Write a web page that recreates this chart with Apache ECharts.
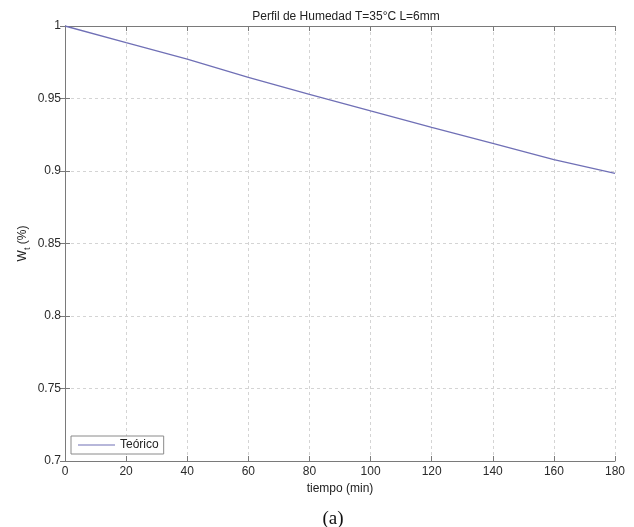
<!DOCTYPE html>
<html>
<head>
<meta charset="utf-8">
<script src="https://cdn.jsdelivr.net/npm/echarts@6/dist/echarts.min.js"></script>
<style>
  html, body { margin: 0; padding: 0; background: #fff; }
  #chart { width: 634px; height: 527px; }
</style>
</head>
<body>
<div id="chart"></div>
<script>
// Moisture profile, time in minutes vs. relative moisture
const tiempo = [0, 20, 40, 60, 80, 100, 120, 140, 160, 180];
const humedad = [1.0, 0.9885, 0.9772, 0.9646, 0.9529, 0.9414, 0.9301, 0.9191, 0.9078, 0.8984];
const xTicks = [0, 20, 40, 60, 80, 100, 120, 140, 160, 180];
const yTicks = [0.7, 0.75, 0.8, 0.85, 0.9, 0.95, 1];

const fontFam = '"Liberation Sans", Arial, sans-serif';
const axisGray = '#7a7a7a';
const gridGray = '#d4d4d4';
const lineColor = '#7070b6';

const chart = echarts.init(document.getElementById('chart'), null, { renderer: 'canvas' });

const baseAxis = {
  axisLine: { show: true, lineStyle: { color: axisGray, width: 1 } },
  axisTick: { show: true, inside: true, length: 5, lineStyle: { color: axisGray } },
  axisLabel: { color: '#2a2a2a', fontSize: 12, fontFamily: fontFam },
  splitLine: { show: false }
};

chart.setOption({
  animation: false,
  backgroundColor: '#fff',
  title: {
    text: 'Perfil de Humedad T=35°C L=6mm',
    left: 341, top: 6, textAlign: 'center',
    textStyle: { fontSize: 12, fontWeight: 'normal', color: '#222', fontFamily: fontFam }
  },
  grid: { left: 65, top: 26, right: 19, bottom: 66 },
  legend: {
    left: 71, top: 436,
    data: [{ name: 'Teórico', itemStyle: { color: lineColor } }],
    icon: 'rect', itemWidth: 37, itemHeight: 1, itemGap: 4,
    padding: [3, 5, 3, 7],
    borderColor: '#8a8a8a', borderWidth: 1, backgroundColor: '#fff',
    textStyle: { fontSize: 12, color: '#222', fontFamily: fontFam }
  },
  xAxis: [
    Object.assign({}, baseAxis, {
      type: 'value', min: xTicks[0], max: xTicks[xTicks.length - 1], interval: 20,
      name: 'tiempo (min)', nameLocation: 'middle', nameGap: 20,
      nameTextStyle: { fontSize: 12, color: '#222', fontFamily: fontFam },
      axisLabel: Object.assign({}, baseAxis.axisLabel, { margin: 5 }),
      splitLine: { show: true, lineStyle: { color: gridGray, type: [3, 3] } }
    }),
    Object.assign({}, baseAxis, {
      type: 'value', position: 'top', min: 0, max: 180, interval: 20,
      axisLabel: { show: false }
    })
  ],
  yAxis: [
    Object.assign({}, baseAxis, {
      type: 'value', min: yTicks[0], max: yTicks[yTicks.length - 1], interval: 0.05,
      name: '{w|W}{t|t}{p| (%)}', nameLocation: 'middle', nameGap: 33, nameRotate: 90,
      nameMoveOverlap: false,
      nameTextStyle: {
        color: '#222', fontFamily: fontFam,
        rich: {
          w: { fontSize: 12, fontFamily: fontFam, color: '#222', lineHeight: 15, verticalAlign: 'top' },
          t: { fontSize: 9, fontFamily: fontFam, color: '#222', lineHeight: 15, verticalAlign: 'bottom', padding: [7, 0, 0, 0] },
          p: { fontSize: 12, fontFamily: fontFam, color: '#222', lineHeight: 15, verticalAlign: 'top' }
        }
      },
      axisLabel: Object.assign({}, baseAxis.axisLabel, {
        margin: 4,
        formatter: v => String(parseFloat(v.toFixed(2)))
      }),
      splitLine: { show: true, lineStyle: { color: gridGray, type: [3, 3] } }
    }),
    Object.assign({}, baseAxis, {
      type: 'value', position: 'right', min: 0.7, max: 1, interval: 0.05,
      axisLabel: { show: false }
    })
  ],
  series: [{
    name: 'Teórico',
    type: 'line',
    data: tiempo.map((t, i) => [t, humedad[i]]),
    showSymbol: false, symbol: 'none',
    lineStyle: { color: lineColor, width: 1.3 },
    itemStyle: { color: lineColor }
  }],
  graphic: [{
    type: 'text', x: 333, y: 519,
    style: {
      text: '(a)', font: '19px "Liberation Serif", "Times New Roman", serif',
      fill: '#111', align: 'center', verticalAlign: 'middle'
    }
  }]
});
</script>
</body>
</html>
